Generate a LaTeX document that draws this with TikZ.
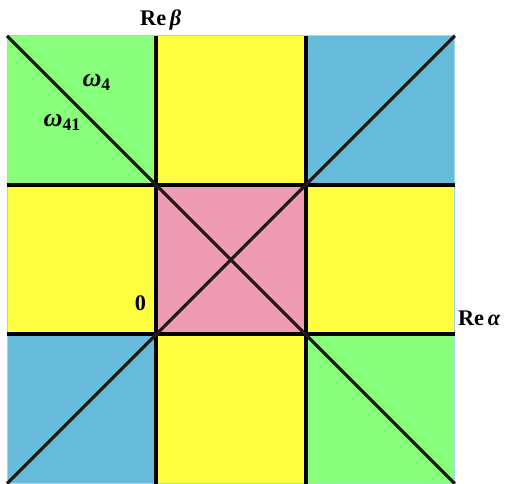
\documentclass[tikz,border=0pt]{standalone}
\usepackage{fontspec}
\setmainfont{Liberation Serif}
\usetikzlibrary{positioning}
\definecolor{greenx}{HTML}{88FF7A}
\definecolor{yellowx}{HTML}{FFFF40}
\definecolor{bluex}{HTML}{66BADA}
\definecolor{pinkx}{HTML}{EE9BB4}
\definecolor{edgex}{HTML}{9ED8F0}
\definecolor{darkx}{HTML}{231815}
\newcommand{\lowsub}[1]{\raisebox{-3pt}{\fontsize{13.5}{14}\selectfont #1}}
\tikzset{
  gridln/.style={line width=3pt,black},
  diag/.style={line width=2.4pt,darkx},
  lbl/.style={font=\fontsize{17}{20}\selectfont\bfseries,inner sep=0pt},
  wlbl/.style={lbl,font=\fontsize{20}{22}\selectfont\bfseries}
}
\begin{document}
\begin{tikzpicture}[x=4cm,y=4cm]
\useasboundingbox (-1.047,-1) rectangle (2.396,2.24);
\coordinate (bl) at (-1,-1); \coordinate (tr) at (2,2);
\coordinate (tl) at (-1,2); \coordinate (br) at (2,-1);
% cells, row by row
\fill[greenx] (-1,1) rectangle (0,2); \fill[yellowx] (0,1) rectangle (1,2); \fill[bluex] (1,1) rectangle (2,2);
\fill[yellowx] (-1,0) rectangle (0,1); \fill[pinkx] (0,0) rectangle (1,1); \fill[yellowx] (1,0) rectangle (2,1);
\fill[bluex] (-1,-1) rectangle (0,0); \fill[yellowx] (0,-1) rectangle (1,0); \fill[greenx] (1,-1) rectangle (2,0);
\draw[edgex,line width=0.6pt] (bl) rectangle (tr);
% lines
\draw[gridln] (0,-1) -- (0,2); \draw[gridln] (1,-1) -- (1,2);
\draw[gridln] (-1,0) -- (2,0); \draw[gridln] (-1,1) -- (2,1);
\draw[diag] (tl) -- (br); \draw[diag] (bl) -- (tr);
% labels
\node[lbl,anchor=base] (reb) at (0.03,2.067) {Re\,\textit{β}};
\node[lbl,anchor=base west] (rea) at (2.02,0.06) {Re\,\textit{α}};
\node[lbl,anchor=base] (orig) at (-0.107,0.16) {0};
\node[wlbl,anchor=base west] (w4) at (-0.496,1.661) {\textit{ω}\lowsub{4}};
\node[wlbl,anchor=base west] (w41) at (-0.757,1.393) {\textit{ω}\lowsub{41}};
\end{tikzpicture}
\end{document}
